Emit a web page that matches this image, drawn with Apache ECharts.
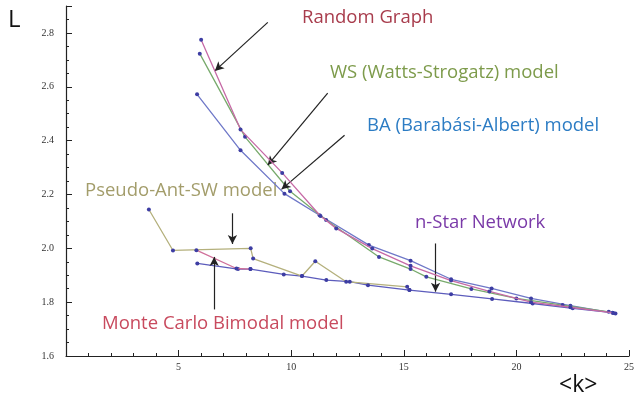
<!DOCTYPE html>
<html>
<head>
<meta charset="utf-8">
<script src="https://cdn.jsdelivr.net/npm/echarts@6/dist/echarts.min.js"></script>
<style>html,body{margin:0;padding:0;background:#fff}#c{width:637px;height:412px}</style>
</head>
<body>
<div id="c"></div>
<script>
// Data: [<k>, L]
const randomGraph = [[6.0,2.775],[7.75,2.441],[9.6,2.28],[11.3,2.12],[12.0,2.074],[13.6,1.999],[15.3,1.935],[17.1,1.88],[18.8,1.84],[20.65,1.80],[22.4,1.781],[24.3,1.760]];
const wsModel = [[5.94,2.723],[7.95,2.414],[9.95,2.212],[11.55,2.105],[13.9,1.968],[15.3,1.923],[16.0,1.894],[18.0,1.849],[20.0,1.814],[22.05,1.789],[24.1,1.764]];
const baModel = [[5.82,2.572],[7.75,2.364],[9.7,2.203],[11.26,2.123],[13.45,2.012],[15.3,1.954],[17.1,1.885],[18.9,1.851],[20.65,1.814],[22.4,1.787],[24.4,1.758]];
const nStar = [[5.83,1.944],[7.64,1.923],[8.19,1.923],[9.67,1.903],[10.48,1.897],[11.56,1.882],[12.6,1.876],[13.41,1.863],[15.25,1.845],[17.1,1.829],[18.92,1.812],[20.72,1.795],[22.5,1.777],[24.27,1.761]];
const pseudoAnt = [[3.68,2.144],[4.75,1.992],[8.2,2.0],[8.31,1.962],[10.48,1.897],[11.07,1.952],[12.44,1.876],[15.15,1.857],[15.25,1.845]];
const monteCarlo = [[5.79,1.993],[7.57,1.925],[8.19,1.923]];
const xTicks = [0,5,10,15,20,25];
const yTicks = [1.6,1.8,2.0,2.2,2.4,2.6,2.8];

// annotation arrows in data coordinates [from, to]
const arrows = [
  [[8.96,2.839],[6.61,2.659]],
  [[11.62,2.576],[8.96,2.309]],
  [[12.37,2.42],[9.57,2.219]],
  [[7.39,2.13],[7.39,2.016]],
  [[6.58,1.773],[6.58,1.968]],
  [[16.41,2.018],[16.41,1.839]]
];

const dot = '#3d3da3';
function line(name, data, color, z){
  return {name, type:'line', data, z, symbol:'circle', symbolSize:4, showSymbol:true,
    lineStyle:{color, width:1.3}, itemStyle:{color:dot}, animation:false, silent:true};
}
const labelFont = 'Liberation Serif';
const annFont = '"Open Sans", sans-serif';

const chart = echarts.init(document.getElementById('c'), null, {renderer:'canvas'});
chart.setOption({
  animation:false,
  grid:{left:66, right:6, top:6, bottom:56},
  xAxis:{type:'value', min:0, max:25, interval:5,
    axisLine:{show:true, onZero:false, lineStyle:{color:'#222', width:1.2}},
    axisTick:{show:true, inside:true, length:6, lineStyle:{color:'#222'}},
    minorTick:{show:true, splitNumber:5, length:3, lineStyle:{color:'#222'}},
    splitLine:{show:false},
    axisLabel:{fontFamily:labelFont, fontSize:10, color:'#333', margin:6,
      formatter:v => (v===0 || xTicks.indexOf(v)<0) ? '' : String(v)}},
  yAxis:{type:'value', min:1.6, max:2.9, interval:0.2,
    axisLine:{show:true, onZero:false, lineStyle:{color:'#222', width:1.2}},
    axisTick:{show:true, inside:true, length:6, lineStyle:{color:'#222'}},
    minorTick:{show:true, splitNumber:4, length:3, lineStyle:{color:'#222'}},
    splitLine:{show:false},
    axisLabel:{fontFamily:labelFont, fontSize:10, color:'#333', margin:12,
      formatter:v => { const t = yTicks.find(y => Math.abs(y-v)<1e-6); return t===undefined ? '' : t.toFixed(1); }}},
  series:[
    line('n-Star Network', nStar, '#5c5cbc', 2),
    line('Monte Carlo Bimodal model', monteCarlo, '#d0709a', 3),
    line('Pseudo-Ant-SW model', pseudoAnt, '#b4b07c', 2),
    line('BA (Barabási-Albert) model', baModel, '#6f78c8', 3),
    line('WS (Watts-Strogatz) model', wsModel, '#78aa6c', 4),
    line('Random Graph', randomGraph, '#c66aa6', 5),
    {type:'line', data:[], silent:true, z:6,
      markLine:{silent:true, symbol:['none','arrow'], symbolSize:[7,9], label:{show:false},
        lineStyle:{color:'#222', width:1.2, type:'solid'},
        data: arrows.map(a => [{coord:a[0]},{coord:a[1]}])}}
  ],
  graphic:[
    {type:'text', left:8, top:8, style:{text:'L', font:'24px "Open Sans", sans-serif', fill:'#111'}},
    {type:'text', left:559, top:374, style:{text:'<k>', font:'23px "Open Sans", sans-serif', fill:'#111'}},
    {type:'text', left:302, top:8, style:{text:'Random Graph', font:'18.5px '+annFont, fill:'#a83c4c'}},
    {type:'text', left:330, top:63, style:{text:'WS (Watts-Strogatz) model', font:'18.5px '+annFont, fill:'#7d9b4b'}},
    {type:'text', left:367, top:116, style:{text:'BA (Barabási-Albert) model', font:'18.5px '+annFont, fill:'#2c7cc4'}},
    {type:'text', left:85, top:181, style:{text:'Pseudo-Ant-SW model', font:'18.5px '+annFont, fill:'#a39d6b'}},
    {type:'text', left:415, top:213, style:{text:'n-Star Network', font:'18.5px '+annFont, fill:'#7a3aa8'}},
    {type:'text', left:102, top:314, style:{text:'Monte Carlo Bimodal model', font:'18.5px '+annFont, fill:'#c84a5e'}}
  ]
});
</script>
</body>
</html>
